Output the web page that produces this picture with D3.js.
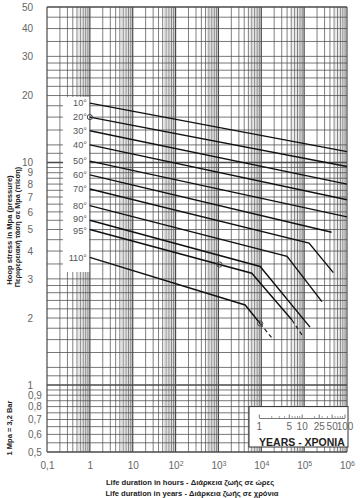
<!DOCTYPE html>
<html>
<head>
<meta charset="utf-8">
<script src="https://cdn.jsdelivr.net/npm/d3@7"></script>
<style>
  html, body { margin: 0; padding: 0; background: #fff; }
  svg { display: block; }
</style>
</head>
<body>
<svg id="chart" width="360" height="498"></svg>
<script>
// ---------------- data ----------------
const temperatures = ["10°", "20°", "30°", "40°", "50°", "60°", "70°", "80°", "90°", "95°", "110°"];
// [hours, MPa]
const t10  = [[1, 18.5], [1e6, 11.2]];
const t20  = [[1, 16.0], [1e6, 9.6]];
const t30  = [[1, 13.9], [1e6, 8.0]];
const t40  = [[1, 12.0], [1e6, 6.8]];
const t50  = [[1, 10.15], [1e6, 5.7]];
const t60  = [[1, 8.8], [4.38e5, 4.86]];
const t70  = [[1, 7.6], [1.3e5, 4.34], [4.8e5, 3.2]];
const t80  = [[1, 6.4], [4.0e4, 3.79], [2.6e5, 2.37]];
const t90  = [[1, 5.5], [9.4e3, 3.41], [1.37e5, 1.82]];
const t95  = [[1, 5.0], [6.0e3, 3.18], [5.2e4, 1.96]];
const t110 = [[1, 3.75], [4.2e3, 2.29], [9.4e3, 1.89]];
const t95dash  = [[5.2e4, 1.96], [8.9e4, 1.68]];
const t110dash = [[9.4e3, 1.89], [1.9e4, 1.60]];
const markers  = [[1, 16.0], [1.06e3, 3.48], [9.4e3, 1.89]];

const hourTicks  = [0.1, 1, 10, 100, 1000, 1e4, 1e5, 1e6];
const hourLabels = ["0,1", "1", "10", "10|2", "10|3", "10|4", "10|5", "10|6"];
const stressTicks  = [50, 40, 30, 20, 10, 9, 8, 7, 6, 5, 4, 3, 2, 1, 0.9, 0.8, 0.7, 0.6, 0.5];
const stressLabels = ["50", "40", "30", "20", "10", "9", "8", "7", "6", "5", "4", "3", "2", "1", "0,9", "0,8", "0,7", "0,6", "0,5"];
const gridStress = [50, 45, 40, 35, 30, 28, 26, 24, 22, 20, 18, 16, 14, 12, 11, 10,
  9.5, 9, 8.5, 8, 7.5, 7, 6.5, 6, 5.5, 5, 4.5, 4, 3.5, 3, 2.8, 2.6, 2.4, 2.2, 2,
  1.8, 1.6, 1.4, 1.2, 1.1, 1, 0.95, 0.9, 0.85, 0.8, 0.75, 0.7, 0.65, 0.6, 0.55, 0.5];
const yearTicks  = [1, 5, 10, 25, 50, 100];
const yearMinor  = [2, 3, 4, 6, 7, 8, 9, 20, 30, 40, 60, 70, 80, 90];
const hoursPerYear = 8760;

// ---------------- layout ----------------
const svg = d3.select("#chart");
const L = 47, R = 347, T = 7, B = 452;
const x = d3.scaleLog().domain([0.1, 1e6]).range([L, R]);
const y = d3.scaleLog().domain([0.5, 50]).range([B, T]);
const gridCol = "#4a4a4a";
const labelFont = "'Liberation Sans', Arial, sans-serif";
const isDecade = d => Math.abs(Math.log10(d) - Math.round(Math.log10(d))) < 1e-6;

// vertical grid
const vGrid = [];
for (let k = -1; k <= 5; k++) for (let m = 1; m <= 9; m++) vGrid.push(m * Math.pow(10, k));
vGrid.push(1e6);
const vHalf = [];
for (let k = -1; k <= 5; k++) for (let m = 5.5; m < 10; m += 1) vHalf.push(m * Math.pow(10, k));

const grid = svg.append("g");
grid.selectAll("line.vh").data(vHalf).join("line")
  .attr("x1", d => x(d)).attr("x2", d => x(d)).attr("y1", T).attr("y2", B)
  .attr("stroke", "#c4c4c4").attr("stroke-width", 0.6);
grid.selectAll("line.v").data(vGrid).join("line")
  .attr("x1", d => x(d)).attr("x2", d => x(d)).attr("y1", T).attr("y2", B)
  .attr("stroke", gridCol)
  .attr("stroke-width", d => isDecade(d) ? 1.2 : 0.7);
grid.selectAll("line.h").data(gridStress).join("line")
  .attr("x1", L).attr("x2", R).attr("y1", d => y(d)).attr("y2", d => y(d))
  .attr("stroke", gridCol)
  .attr("stroke-width", d => (d === 1 || d === 10 || d === 50 || d === 0.5) ? 1.3 : 0.75);

// white box behind temperature labels
svg.append("rect").attr("x", 63).attr("y", 97).attr("width", x(1) - 63 - 0.7).attr("height", 175).attr("fill", "#fff");

// curves
const line = d3.line().x(d => x(d[0])).y(d => y(d[1]));
const solids = [t10, t20, t30, t40, t50, t60, t70, t80, t90, t95, t110];
svg.append("g").selectAll("path").data(solids).join("path")
  .attr("d", line).attr("fill", "none").attr("stroke", "#111").attr("stroke-width", 1.4);
svg.append("g").selectAll("path").data([t95dash, t110dash]).join("path")
  .attr("d", line).attr("fill", "none").attr("stroke", "#222").attr("stroke-width", 1.2)
  .attr("stroke-dasharray", "4,3");
svg.append("g").selectAll("circle").data(markers).join("circle")
  .attr("cx", d => x(d[0])).attr("cy", d => y(d[1])).attr("r", 2.6)
  .attr("fill", "none").attr("stroke", "#444").attr("stroke-width", 1);

// temperature labels (90° / 95° nudged apart slightly)
const labelNudge = { "90°": -1.5, "95°": 1.5 };
svg.append("g").selectAll("text").data(solids).join("text")
  .attr("x", 87).attr("y", (d, i) => y(d[0][1]) + (labelNudge[temperatures[i]] || 0)).attr("dy", "0.36em")
  .attr("text-anchor", "end").attr("font-family", labelFont).attr("font-size", 9.2)
  .attr("fill", "#555").text((d, i) => temperatures[i]);

// Y axis labels
const yAxis = d3.axisLeft(y).tickValues(stressTicks)
  .tickFormat((d, i) => stressLabels[i]).tickSize(0).tickPadding(14);
const ya = svg.append("g").attr("transform", `translate(${L},0)`).call(yAxis);
ya.select(".domain").remove();
ya.selectAll("text").attr("font-family", labelFont).attr("font-size", 10).attr("fill", "#666");
ya.selectAll(".tick").filter(d => d < 1).select("text").attr("text-anchor", "start").attr("x", -19);

// X axis labels
const xAxis = d3.axisBottom(x).tickValues(hourTicks).tickFormat((d, i) => hourLabels[i])
  .tickSize(0).tickPadding(10);
const xa = svg.append("g").attr("transform", `translate(0,${B})`).call(xAxis);
xa.select(".domain").remove();
xa.selectAll("text").attr("font-family", labelFont).attr("font-size", 10).attr("fill", "#666")
  .each(function (d, i) {
    const parts = hourLabels[i].split("|");
    if (parts.length > 1) {
      const t = d3.select(this).text(parts[0]);
      t.append("tspan").attr("dy", "-0.45em").attr("font-size", 7).text(parts[1]);
    }
  });

// years box
const bx = 249, by = y(0.8), bw = R - bx, bh = 447 - y(0.8);
svg.append("rect").attr("x", bx).attr("y", by).attr("width", bw + 1).attr("height", bh)
  .attr("fill", "#fff").attr("stroke", "#333").attr("stroke-width", 1);
const yearScale = d3.scaleLog().domain([1, 100]).range([x(hoursPerYear), x(100 * hoursPerYear)]);
const yrAxis = d3.axisBottom(yearScale).tickValues(yearTicks).tickFormat(d3.format("d"))
  .tickSizeInner(-3.5).tickSizeOuter(0).tickPadding(5);
const yra = svg.append("g").attr("transform", "translate(0,418)").call(yrAxis);
yra.select(".domain").attr("stroke", "#777");
yra.selectAll(".tick line").attr("stroke", "#777");
yra.selectAll("text").attr("font-family", labelFont).attr("font-size", 10).attr("fill", "#666");
yra.append("g").selectAll("line").data(yearMinor).join("line")
  .attr("x1", d => yearScale(d)).attr("x2", d => yearScale(d)).attr("y1", 0).attr("y2", -2)
  .attr("stroke", "#888").attr("stroke-width", 0.8);
svg.append("text").attr("x", 302).attr("y", 445.5).attr("text-anchor", "middle")
  .attr("font-family", labelFont).attr("font-weight", "bold").attr("font-size", 10.5)
  .attr("fill", "#222").text("YEARS - ΧΡΟΝΙΑ");

// titles
const titleStyle = s => s.attr("font-family", labelFont).attr("font-weight", "bold")
  .attr("fill", "#222").attr("text-anchor", "middle");
svg.append("text").attr("x", 190).attr("y", 484.5).attr("font-size", 7.6).call(titleStyle)
  .text("Life duration in hours - Διάρκεια ζωής σε ώρες");
svg.append("text").attr("x", 192).attr("y", 496).attr("font-size", 7.6).call(titleStyle)
  .text("Life duration in years - Διάρκεια ζωής σε χρόνια");
svg.append("text").attr("transform", "translate(12,230) rotate(-90)").attr("font-size", 7.6)
  .call(titleStyle).text("Hoop stress in Mpa (pressure)");
svg.append("text").attr("transform", "translate(19.5,227) rotate(-90)").attr("font-size", 7.3)
  .call(titleStyle).text("Περιφερειακή τάση σε Mpa (πίεση)");
svg.append("text").attr("transform", "translate(12,428) rotate(-90)").attr("font-size", 7.5)
  .call(titleStyle).text("1 Mpa = 3,2 Bar");
</script>
</body>
</html>
